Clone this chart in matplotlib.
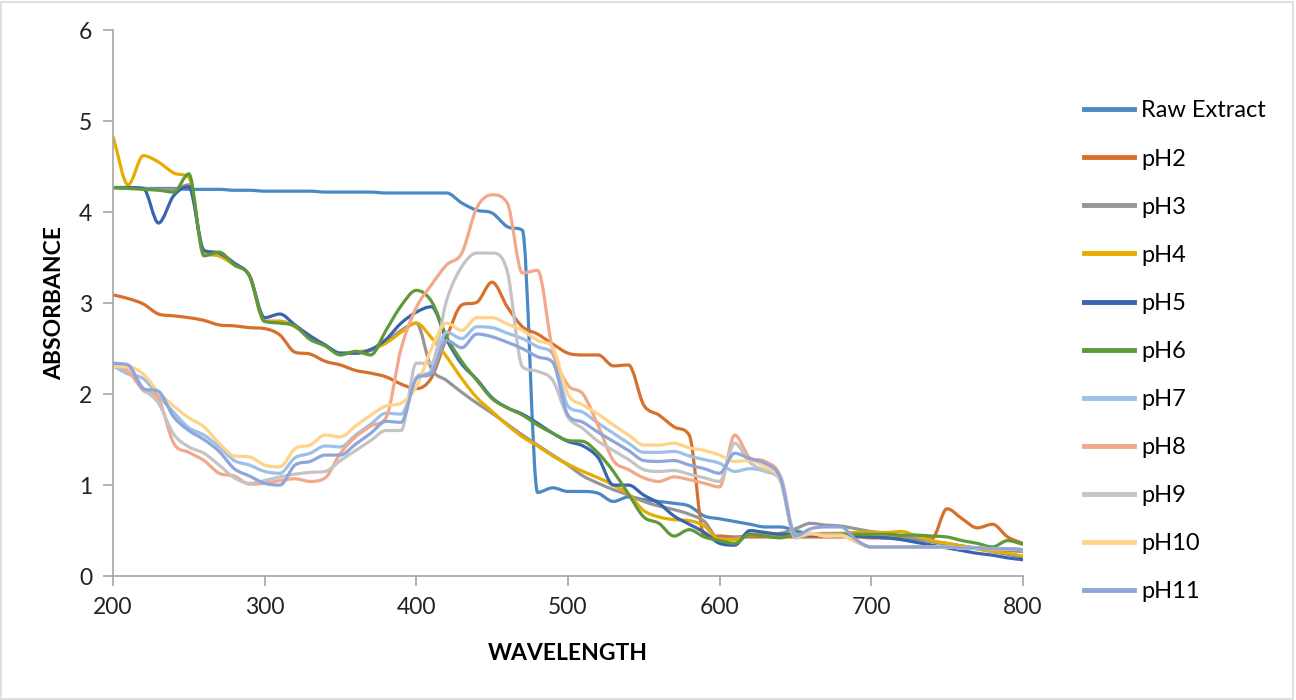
import matplotlib
matplotlib.use("Agg")
import matplotlib.pyplot as plt
from matplotlib.path import Path
from matplotlib.patches import PathPatch, Rectangle
from matplotlib.lines import Line2D
import numpy as np

plt.rcParams['font.family'] = ['Lato', 'DejaVu Sans']

wavelength = list(range(200, 801, 10))

raw_extract = [4.27, 4.27, 4.26, 4.26, 4.26, 4.25, 4.25, 4.25, 4.24, 4.24,
               4.23, 4.23, 4.23, 4.23, 4.22, 4.22, 4.22, 4.22, 4.21, 4.21,
               4.21, 4.21, 4.21, 4.10, 4.02, 3.99, 3.84, 3.80, 0.92, 0.97,
               0.93, 0.93, 0.91, 0.82, 0.87, 0.84, 0.82, 0.80, 0.77, 0.66,
               0.63, 0.60, 0.57, 0.54, 0.54, 0.50, 0.46, 0.45, 0.45, 0.44,
               0.43, 0.42, 0.41, 0.40, 0.38, 0.35, 0.33, 0.30, 0.27, 0.24, 0.21]
ph2 = [3.09, 3.05, 2.99, 2.88, 2.86, 2.84, 2.81, 2.76, 2.75, 2.73,
       2.72, 2.65, 2.46, 2.44, 2.36, 2.32, 2.26, 2.23, 2.19, 2.11,
       2.06, 2.18, 2.62, 2.98, 3.01, 3.23, 2.96, 2.74, 2.66, 2.55,
       2.45, 2.43, 2.43, 2.31, 2.32, 1.88, 1.77, 1.64, 1.55, 0.44,
       0.44, 0.43, 0.43, 0.43, 0.43, 0.43, 0.43, 0.43, 0.43, 0.43,
       0.42, 0.42, 0.42, 0.42, 0.41, 0.74, 0.63, 0.53, 0.57, 0.43, 0.36]
ph3 = [4.27, 4.26, 4.26, 4.25, 4.25, 4.30, 3.55, 3.52, 3.42, 3.30,
       2.80, 2.80, 2.74, 2.62, 2.53, 2.45, 2.45, 2.48, 2.57, 2.70,
       2.78, 2.28, 2.15, 2.02, 1.90, 1.79, 1.67, 1.55, 1.44, 1.33,
       1.22, 1.10, 1.02, 0.95, 0.89, 0.82, 0.77, 0.73, 0.68, 0.60,
       0.40, 0.42, 0.45, 0.46, 0.47, 0.52, 0.58, 0.56, 0.55, 0.52,
       0.49, 0.47, 0.44, 0.41, 0.38, 0.36, 0.33, 0.31, 0.29, 0.28, 0.27]
ph4 = [4.83, 4.30, 4.62, 4.55, 4.43, 4.38, 3.55, 3.52, 3.42, 3.30,
       2.80, 2.80, 2.74, 2.62, 2.53, 2.44, 2.46, 2.49, 2.56, 2.68,
       2.78, 2.62, 2.41, 2.17, 1.96, 1.81, 1.66, 1.53, 1.43, 1.32,
       1.23, 1.15, 1.08, 1.00, 0.90, 0.72, 0.65, 0.62, 0.61, 0.55,
       0.40, 0.40, 0.46, 0.45, 0.43, 0.46, 0.46, 0.47, 0.47, 0.48,
       0.48, 0.48, 0.49, 0.44, 0.39, 0.36, 0.33, 0.30, 0.27, 0.25, 0.22]
ph5 = [4.27, 4.27, 4.26, 3.88, 4.18, 4.28, 3.58, 3.55, 3.44, 3.30,
       2.84, 2.88, 2.76, 2.64, 2.54, 2.45, 2.45, 2.49, 2.60, 2.78,
       2.90, 2.96, 2.60, 2.33, 2.16, 1.96, 1.85, 1.78, 1.68, 1.57,
       1.48, 1.43, 1.30, 1.00, 1.00, 0.89, 0.80, 0.66, 0.57, 0.48,
       0.36, 0.34, 0.50, 0.48, 0.46, 0.46, 0.45, 0.45, 0.44, 0.44,
       0.43, 0.42, 0.40, 0.37, 0.34, 0.31, 0.28, 0.25, 0.23, 0.20, 0.18]
ph6 = [4.27, 4.26, 4.25, 4.24, 4.22, 4.42, 3.52, 3.56, 3.42, 3.30,
       2.80, 2.78, 2.75, 2.60, 2.53, 2.43, 2.47, 2.43, 2.70, 2.97,
       3.14, 3.02, 2.63, 2.36, 2.15, 1.95, 1.85, 1.77, 1.66, 1.57,
       1.49, 1.48, 1.35, 1.15, 0.90, 0.65, 0.58, 0.44, 0.51, 0.43,
       0.39, 0.36, 0.46, 0.44, 0.42, 0.46, 0.46, 0.46, 0.46, 0.46,
       0.46, 0.46, 0.45, 0.45, 0.44, 0.43, 0.39, 0.36, 0.32, 0.39, 0.35]
ph7 = [2.31, 2.22, 2.17, 1.98, 1.80, 1.63, 1.55, 1.42, 1.27, 1.22,
       1.15, 1.13, 1.30, 1.35, 1.43, 1.42, 1.55, 1.67, 1.79, 1.78,
       2.18, 2.26, 2.68, 2.61, 2.74, 2.73, 2.67, 2.61, 2.52, 2.44,
       1.87, 1.80, 1.68, 1.57, 1.46, 1.36, 1.36, 1.37, 1.32, 1.28,
       1.24, 1.15, 1.18, 1.15, 1.05, 0.42, 0.46, 0.46, 0.45, 0.38,
       0.32, 0.32, 0.32, 0.32, 0.32, 0.32, 0.31, 0.31, 0.30, 0.30, 0.29]
ph8 = [2.33, 2.25, 2.04, 1.95, 1.46, 1.36, 1.27, 1.13, 1.10, 1.01,
       1.02, 1.05, 1.07, 1.04, 1.08, 1.35, 1.53, 1.65, 1.74, 2.50,
       2.95, 3.20, 3.42, 3.55, 4.05, 4.19, 4.10, 3.33, 3.36, 2.48,
       2.10, 2.00, 1.65, 1.27, 1.17, 1.08, 1.04, 1.09, 1.06, 1.02,
       0.98, 1.55, 1.30, 1.26, 1.10, 0.45, 0.47, 0.45, 0.45, 0.38,
       0.32, 0.32, 0.32, 0.32, 0.32, 0.32, 0.31, 0.31, 0.30, 0.30, 0.29]
ph9 = [2.33, 2.30, 2.06, 1.90, 1.56, 1.42, 1.35, 1.22, 1.08, 1.02,
       1.05, 1.09, 1.12, 1.14, 1.15, 1.27, 1.38, 1.49, 1.60, 1.60,
       2.34, 2.34, 3.03, 3.40, 3.55, 3.55, 3.35, 2.30, 2.25, 2.15,
       1.75, 1.62, 1.48, 1.38, 1.28, 1.17, 1.15, 1.16, 1.12, 1.08,
       1.04, 1.46, 1.25, 1.16, 1.10, 0.45, 0.47, 0.44, 0.45, 0.38,
       0.32, 0.32, 0.32, 0.32, 0.32, 0.32, 0.31, 0.31, 0.30, 0.30, 0.29]
ph10 = [2.30, 2.30, 2.22, 2.02, 1.87, 1.74, 1.64, 1.46, 1.32, 1.31,
        1.22, 1.20, 1.40, 1.44, 1.55, 1.53, 1.65, 1.77, 1.87, 1.90,
        2.08, 2.50, 2.78, 2.70, 2.84, 2.84, 2.77, 2.70, 2.59, 2.51,
        2.00, 1.88, 1.78, 1.66, 1.55, 1.44, 1.44, 1.46, 1.41, 1.38,
        1.33, 1.26, 1.27, 1.20, 1.05, 0.43, 0.47, 0.44, 0.44, 0.38,
        0.32, 0.32, 0.32, 0.32, 0.32, 0.32, 0.31, 0.31, 0.30, 0.30, 0.29]
ph11 = [2.34, 2.32, 2.06, 2.03, 1.75, 1.60, 1.50, 1.37, 1.18, 1.10,
        1.02, 1.00, 1.22, 1.26, 1.33, 1.33, 1.45, 1.57, 1.70, 1.69,
        2.17, 2.23, 2.59, 2.51, 2.66, 2.63, 2.57, 2.50, 2.41, 2.35,
        1.77, 1.69, 1.58, 1.48, 1.38, 1.27, 1.26, 1.27, 1.22, 1.18,
        1.13, 1.35, 1.29, 1.24, 1.08, 0.44, 0.52, 0.54, 0.54, 0.40,
        0.32, 0.32, 0.32, 0.32, 0.32, 0.32, 0.31, 0.31, 0.30, 0.30, 0.29]

names = ["Raw Extract", "pH2", "pH3", "pH4", "pH5", "pH6",
         "pH7", "pH8", "pH9", "pH10", "pH11"]
series = [raw_extract, ph2, ph3, ph4, ph5, ph6, ph7, ph8, ph9, ph10, ph11]
colors = ["#4A89C4", "#D7702C", "#969696", "#E6AC00", "#3B64B0", "#5E9A3C",
          "#9DC0E8", "#F2A88A", "#C4C4C4", "#FFD38A", "#8FA6DA"]


def smooth_path(x, y):
    # smoothed line as bezier segments (Fritsch-Carlson tangents, no overshoot on steps)
    x = np.asarray(x, float)
    y = np.asarray(y, float)
    h = np.diff(x)
    d = np.diff(y) / h
    m = np.zeros(len(y))
    m[0], m[-1] = d[0], d[-1]
    for i in range(1, len(y) - 1):
        if d[i - 1] * d[i] > 0:
            m[i] = (d[i - 1] + d[i]) / 2
            lim = 3 * min(abs(d[i - 1]), abs(d[i]))
            if abs(m[i]) > lim:
                m[i] = np.sign(m[i]) * lim
    verts = [(x[0], y[0])]
    codes = [Path.MOVETO]
    for i in range(len(y) - 1):
        verts += [(x[i] + h[i] / 3, y[i] + m[i] * h[i] / 3),
                  (x[i + 1] - h[i] / 3, y[i + 1] - m[i + 1] * h[i] / 3),
                  (x[i + 1], y[i + 1])]
        codes += [Path.CURVE4] * 3
    return Path(verts, codes)


fig = plt.figure(figsize=(12.96, 7), dpi=100)
ax = fig.add_axes([0.0872, 0.177, 0.7020, 0.780])

for name, vals, c in zip(names, series, colors):
    patch = PathPatch(smooth_path(wavelength, vals), facecolor="none",
                      edgecolor=c, lw=2.3, capstyle="round", joinstyle="round")
    ax.add_patch(patch)

ax.set_xlim(200, 800)
ax.set_ylim(0, 6)
ax.set_xticks(range(200, 801, 100))
ax.set_yticks(range(0, 7))
for s in ["top", "right"]:
    ax.spines[s].set_visible(False)
for s in ["left", "bottom"]:
    ax.spines[s].set_color("#A6A6A6")
    ax.spines[s].set_linewidth(1.2)
ax.tick_params(axis="both", colors="#A6A6A6", length=7, width=1.2,
               labelsize=16.5, labelcolor="#222222")
ax.tick_params(axis="x", pad=8)
ax.tick_params(axis="y", pad=8)

ax.set_xlabel("WAVELENGTH", fontsize=16.5, fontweight="bold", labelpad=18)
ax.set_ylabel("ABSORBANCE", fontsize=16.5, fontweight="bold", labelpad=10)

handles = [Line2D([], [], color=c, lw=3.5) for c in colors]
fig.legend(handles, names, loc="upper left", bbox_to_anchor=(0.8295, 0.870),
           frameon=False, fontsize=17, handlelength=2.1, handletextpad=0.3,
           labelspacing=1.148, borderaxespad=0)

fig.patches.append(Rectangle((0.001, 0.002), 0.997, 0.995, transform=fig.transFigure,
                             fill=False, edgecolor="#D9D9D9", lw=1.2))

fig.savefig("out.png", dpi=100)
